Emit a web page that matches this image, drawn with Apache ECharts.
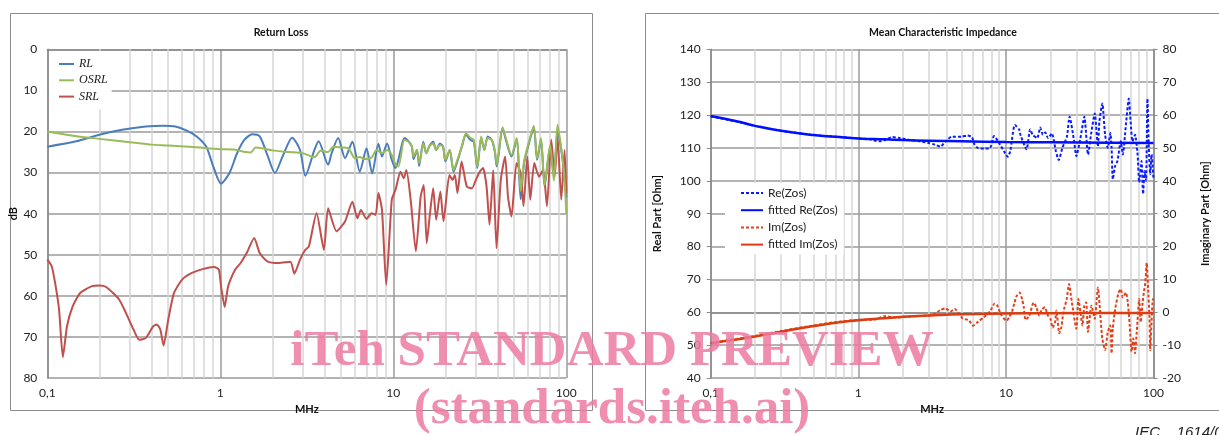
<!DOCTYPE html>
<html><head><meta charset="utf-8">
<script src="https://cdn.jsdelivr.net/npm/echarts@6/dist/echarts.min.js"></script>
<style>html,body{margin:0;padding:0;background:#fff}#c{width:1219px;height:435px}</style>
</head><body><div id="c"></div>
<script>
// ---------- Return Loss (left) ----------
const rlFreq = [0.1,0.147,0.2,0.27,0.37,0.47,0.55,0.64,0.73,0.83,0.91,1.01,1.13,1.25,1.38,1.53,1.69,1.87,2.07,2.29,2.6,2.89,3.1,3.5,3.7,4.2,4.4,4.8,5.26,5.8,6.4,7.0,7.55,8.2,8.6,9.2,9.8,10.3,10.7,11.6,12.3,12.8,13.1,13.7,14.1,14.9,15.5,16.2,17,17.7,18.6,19.4,20,21.2,22.3,23.3,24.9,26.3,28,29.2,30.6,32.2,33.6,35.1,37.1,38.6,39.6,42.8,44.7,48.2,51.6,54.5,57,60.8,64.9,67.8,71.4,74.9,80.6,84.8,89,93.5,97,100];
const rlDb   = [23.7,22.4,20.8,19.6,18.8,18.6,18.8,19.8,21.2,23.7,28.5,32.7,30.1,25.3,22,20.7,21.2,25.7,30.1,26.1,21.5,24.5,30.8,24.5,22.4,28.1,25.3,21.6,26.5,22.5,29.8,24.1,30.2,23,26.1,22.9,26.9,28.9,26.9,21.6,22.5,23.7,26.7,24.5,28.4,22.5,25.3,23.5,22.5,24.5,22.9,23.7,27.3,24.5,29.8,27.7,23.7,20.8,22.1,22.5,28.9,21.6,24.5,21.2,22.1,24.9,28.5,19.2,22,26.1,22,36.5,27.7,22.9,19,26.9,22,33.4,23.7,31,19.5,24.5,30,36];
const osrlFreq = [0.1,0.15,0.2,0.3,0.4,0.5,0.7,1,1.2,1.4,1.5,1.6,1.8,2,2.5,3,3.5,3.8,4.2,4.5,5,5.5,6,6.4,6.8,7.5,8,8.6,9.2,9.8,10.3,10.7,11.6,12.3,12.8,13.1,13.7,14.1,14.9,15.5,16.2,17,17.7,18.6,19.4,20,21.2,22.3,23.3,24.9,26.3,28,29.2,30.6,32.2,33.6,35.1,37.1,38.6,39.6,42.8,44.7,48.2,51.6,54.5,57,60.8,64.9,67.8,71.4,74.9,80.6,84.8,89,93.5,97,100];
const osrlDb   = [20,21.2,21.8,22.6,23.2,23.4,23.8,24.3,24.4,25,25.1,23.9,24.2,24.6,25,25.3,26.3,24.7,25,23.7,23.9,24.1,26.5,26.2,26.7,26.3,24.5,25.3,24.5,25.7,28.1,28.5,22.1,22.5,23.7,26.1,24.5,27.7,22.9,25.3,23.5,22.9,24.5,23.3,23.7,26.9,24.5,29.4,27.3,23.7,20.5,21.6,22.1,28.5,21.2,24.5,21.6,22.1,24.5,28.1,19,21.6,25.7,21.6,34.5,27.3,22.5,18.6,26.5,21.6,33,23.3,32,18.3,24.1,30,39.9];
const srlFreq = [0.1,0.106,0.111,0.117,0.123,0.13,0.14,0.155,0.18,0.2,0.22,0.26,0.285,0.315,0.34,0.37,0.41,0.43,0.45,0.47,0.5,0.54,0.6,0.68,0.79,0.92,0.98,1.01,1.06,1.11,1.22,1.31,1.42,1.57,1.69,1.87,2.17,2.54,2.68,2.89,3.1,3.25,3.6,3.97,4.2,4.7,5.26,5.8,6.2,6.5,7.0,7.5,7.9,8.2,8.6,9.1,9.8,10.3,11,11.5,11.9,12.6,13.5,14.4,15,15.6,16.3,17,17.7,18.7,19.5,21.1,22,22.7,23.5,24.8,26.6,28.5,30,31.6,33,34.6,36,37.8,39.5,41.8,44.3,46,48.2,51.6,54.5,56.6,59.5,61.9,65.3,69.5,73.4,77.3,81.9,85.7,89,93.5,97.8,100];
const srlDb   = [51.2,52.8,56.9,63.4,74.9,67.4,62.6,59.3,57.7,57.5,57.9,60.9,64.2,68.2,70.7,70.3,67.4,67,68.2,72.1,65.8,59.3,56.1,54.5,53.5,53,53.6,57.7,62.7,57.7,53.6,52,49.6,45.9,49.6,51.6,52,51.7,54.6,51.2,48.8,48,39.9,48.8,38.7,44.3,41.9,37.1,41.1,39.1,41.3,39.9,40.3,35,39.1,57.3,36.6,34.2,29.8,31.4,29.4,36.6,49.2,35.8,33,47.2,39.9,33.8,41.5,34.6,41.9,30.6,31.8,30.6,35,27.3,33.4,33.8,31.8,29.8,28.9,33.4,42.7,29.4,48.4,31.8,26.1,35.8,40.7,27.7,30.1,38.2,26.1,36.6,27.7,31,29.3,38.2,22,31,21.2,36.6,24.5,35];

// ---------- Mean Characteristic Impedance (right) ----------
const reFreq = [0.1,0.15,0.2,0.3,0.5,0.7,1,1.2,1.4,1.5,1.7,1.9,2.2,2.6,3,3.3,3.6,3.9,4.3,5,5.5,5.9,6.1,6.5,7.2,7.8,8.3,8.8,9.7,10.3,10.7,11.5,12.3,12.6,13.8,14.6,15.2,16.3,17.1,17.8,18.5,19.3,20.5,21.8,22.8,24.2,25.9,27,29,30,32,34,36,38,40,42,43,45,47,49,51,52,53,55,57,60,62,65,68,70,72,75,78,80,83,85,87,89,91,93,95,97,100];
const reZos  = [119.6,118,116.7,115.2,113.9,113.4,112.9,112.6,112,112.3,113.3,113,112.5,112,111.5,111,110.4,112,113.4,113.4,113.8,113.2,111.2,109.9,109.8,109.9,113.6,112.2,109,107.3,109,117,115.6,113.7,109.6,115.6,114,113,116.2,114,114.7,113,114.4,109,106.3,110.2,113.4,119.5,112,107.5,113,119.5,108,115,120.5,110.5,118,123.5,114,110,114.5,110,100.5,104.5,106,112,108,117,125,118,112,114,108,99.5,106,96,103,100,125,110,102,108,100.5];
const fitFreq = [0.1,0.15,0.2,0.3,0.5,0.7,1,1.5,2,3,5,10,20,50,100];
const fitRe   = [119.7,118.1,116.7,115.2,113.9,113.4,112.9,112.6,112.4,112.2,112,111.8,111.7,111.6,111.5];
const fitIm   = [-9.4,-8.3,-7.4,-5.9,-4.2,-3.2,-2.4,-1.8,-1.4,-1,-0.6,-0.4,-0.3,-0.2,-0.2];
const imFreq = [0.1,0.2,0.3,0.5,0.7,1,1.3,1.5,1.8,2.2,2.7,3.2,3.6,3.9,4.2,4.5,5.1,5.6,6,6.5,7.1,7.8,8.4,8.7,9.3,10.1,10.5,11,11.4,11.8,12.4,12.9,13.2,13.6,14.4,15.4,16.1,16.8,17.5,18.4,19.1,20.1,20.7,21.5,22,23,23.8,24.5,25.8,26.8,27.5,28,30,31,32,33,34,35,36,38,40,42,44,45,47,49,51,52,53,55,58,60,62,65,67,69,71,73,75,77,80,82,84,86,88,90,92,94,95,97,99,100];
const imZos  = [-9.4,-7.2,-5.7,-4,-3,-2.3,-2.2,-1.2,-1.6,-1.3,-1.1,-0.8,0.7,1.2,0.2,1,-1.9,-2.4,-4.1,-2.8,-1.5,0.2,2.7,2.2,-0.8,-2.6,-1.6,0.2,2.7,4.9,6,3.8,1.7,-2.3,-1.1,2.9,1.5,-1,0.8,1.5,-0.7,-2.2,-4.7,-3.2,0.5,-6.4,-4.4,0,4,8.6,5.5,3,-5,4,0,-4,2,3,-6,2,-2,7.5,-3,-8,-11.5,-6,-4,-12.5,-5,1,6,7,4.5,6,3,-4,-12,-8,-12.5,-6,4,-3,2,6,9,15,7,-2,-11.5,-3,4,3];

// ---------- axis ticks ----------
const majorTicks = [0.1, 1, 10, 100];
const minorFreqs = [0.2,0.3,0.4,0.5,0.6,0.7,0.8,0.9,2,3,4,5,6,7,8,9,20,30,40,50,60,70,80,90];

const zip = (a, b) => a.map((v, i) => [v, b[i]]);
const fmtF = v => (Math.abs(v - 0.1) < 1e-6 ? '0,1' : String(Math.round(v)));

const FONT = 'Lato, "Noto Sans", sans-serif';
const lbl = { color: '#222', fontSize: 12, fontFamily: FONT };
const gridMajor = { show: true, lineStyle: { color: '#9a9a9a', width: 1.5 } };

function xAx(gi) {
  return {
    type: 'log', logBase: 10, min: 0.1, max: 100, gridIndex: gi,
    name: 'MHz', nameLocation: 'middle', nameGap: 22,
    nameTextStyle: { fontWeight: 'bold', fontSize: 11, fontFamily: FONT, color: '#111' },
    axisLine: { show: true, lineStyle: { color: '#8a8a8a', width: 1.5 } },
    axisTick: { show: false },
    axisLabel: Object.assign({ margin: 9, formatter: fmtF }, lbl),
    splitLine: gridMajor, minorTick: { show: false }, minorSplitLine: { show: false }
  };
}
function minorSeries(xi, yi) {
  return {
    type: 'line', xAxisIndex: xi, yAxisIndex: yi, data: [], z: 1, silent: true,
    markLine: {
      z: 1, silent: true, symbol: ['none', 'none'], animation: false,
      label: { show: false },
      lineStyle: { color: '#d6d6d6', width: 1.5, type: 'solid' },
      emphasis: { disabled: true },
      data: minorFreqs.map(f => ({ xAxis: f }))
    }
  };
}

const chart = echarts.init(document.getElementById('c'), null, { renderer: 'canvas' });
chart.setOption({
  animation: false,
  backgroundColor: '#fff',
  title: [
    { text: 'Return Loss', left: 276, top: 22, textAlign: 'center',
      textStyle: { fontSize: 10.5, fontWeight: 'bold', fontFamily: FONT, color: '#111' } },
    { text: 'Mean Characteristic Impedance', left: 938, top: 22, textAlign: 'center',
      textStyle: { fontSize: 10.5, fontWeight: 'bold', fontFamily: FONT, color: '#111' } }
  ],
  grid: [
    { left: 47.3, top: 49.3, width: 519, height: 328.7 },
    { left: 710.7, top: 49.3, width: 442.8, height: 328.7 }
  ],
  legend: [
    { data: ['RL', 'OSRL', 'SRL'], orient: 'vertical', left: 49, top: 51,
      padding: [7, 4, 7, 9], itemGap: 4.3, itemWidth: 15, itemHeight: 14,
      backgroundColor: '#fff', z: 6, itemStyle: { opacity: 0 },
      textStyle: { fontFamily: '"Liberation Serif", serif', fontStyle: 'italic', fontSize: 12, color: '#222' } },
    { data: ['Re(Zos)', 'fitted Re(Zos)', 'Im(Zos)', 'fitted Im(Zos)'], orient: 'vertical', left: 725, top: 183,
      padding: [4, 6, 4, 15], itemGap: 5.2, itemWidth: 22, itemHeight: 10,
      backgroundColor: '#fff', z: 6, itemStyle: { opacity: 0 },
      textStyle: { fontFamily: FONT, fontSize: 12, color: '#222' } }
  ],
  xAxis: [xAx(0), xAx(1)],
  yAxis: [
    { type: 'value', gridIndex: 0, inverse: true, min: 0, max: 80, interval: 10,
      name: 'dB', nameLocation: 'middle', nameGap: 28, nameRotate: 90,
      nameTextStyle: { fontWeight: 'bold', fontSize: 11, fontFamily: FONT, color: '#111' },
      axisLine: { show: true, lineStyle: { color: '#8a8a8a', width: 1.5 } },
      axisTick: { show: false }, axisLabel: Object.assign({ margin: 10 }, lbl), splitLine: gridMajor },
    { type: 'value', gridIndex: 1, min: 40, max: 140, interval: 10, position: 'left',
      name: 'Real Part [Ohm]', nameLocation: 'middle', nameGap: 48, nameRotate: 90,
      nameTextStyle: { fontWeight: 'bold', fontSize: 11, fontFamily: FONT, color: '#111' },
      axisLine: { show: true, lineStyle: { color: '#8a8a8a', width: 1.5 } },
      axisTick: { show: true, inside: false, length: 4, lineStyle: { color: '#8a8a8a' } },
      axisLabel: Object.assign({ margin: 10 }, lbl), splitLine: gridMajor },
    { type: 'value', gridIndex: 1, min: -20, max: 80, interval: 10, position: 'right',
      name: 'Imaginary Part [Ohm]', nameLocation: 'middle', nameGap: 46, nameRotate: 90,
      nameTextStyle: { fontWeight: 'bold', fontSize: 11, fontFamily: FONT, color: '#111' },
      axisLine: { show: true, lineStyle: { color: '#8a8a8a', width: 1.5 } },
      axisTick: { show: true, inside: false, length: 4, lineStyle: { color: '#8a8a8a' } },
      axisLabel: Object.assign({ margin: 9 }, lbl), splitLine: { show: false } }
  ],
  series: [
    minorSeries(0, 0),
    minorSeries(1, 1),
    { name: 'RL', type: 'line', xAxisIndex: 0, yAxisIndex: 0, data: zip(rlFreq, rlDb), symbol: 'none', smooth: 0.25, z: 3,
      lineStyle: { color: '#4a7ebb', width: 2 }, itemStyle: { color: '#4a7ebb' } },
    { name: 'OSRL', type: 'line', xAxisIndex: 0, yAxisIndex: 0, data: zip(osrlFreq, osrlDb), symbol: 'none', smooth: 0.25, z: 4,
      lineStyle: { color: '#9bbb59', width: 2 }, itemStyle: { color: '#9bbb59' } },
    { name: 'SRL', type: 'line', xAxisIndex: 0, yAxisIndex: 0, data: zip(srlFreq, srlDb), symbol: 'none', smooth: 0.2, z: 3,
      lineStyle: { color: '#c0504d', width: 2 }, itemStyle: { color: '#c0504d' } },
    { name: 'Re(Zos)', type: 'line', xAxisIndex: 1, yAxisIndex: 1, data: zip(reFreq, reZos), symbol: 'none', smooth: 0.2, z: 3,
      lineStyle: { color: '#0a1cff', width: 2, type: [3, 2] }, itemStyle: { color: '#0a1cff' } },
    { name: 'fitted Re(Zos)', type: 'line', xAxisIndex: 1, yAxisIndex: 1, data: zip(fitFreq, fitRe), symbol: 'none', smooth: true, z: 4,
      lineStyle: { color: '#0010ff', width: 2.5 }, itemStyle: { color: '#0010ff' } },
    { name: 'Im(Zos)', type: 'line', xAxisIndex: 1, yAxisIndex: 2, data: zip(imFreq, imZos), symbol: 'none', smooth: 0.2, z: 3,
      lineStyle: { color: '#e0401a', width: 2, type: [3, 2] }, itemStyle: { color: '#e0401a' } },
    { name: 'fitted Im(Zos)', type: 'line', xAxisIndex: 1, yAxisIndex: 2, data: zip(fitFreq, fitIm), symbol: 'none', smooth: true, z: 4,
      lineStyle: { color: '#dc3c10', width: 2.5 }, itemStyle: { color: '#dc3c10' } }
  ],
  graphic: [
    { type: 'rect', shape: { x: 10.5, y: 13.5, width: 582, height: 397 }, style: { fill: 'none', stroke: '#8c8c8c', lineWidth: 1 }, z: 0, silent: true },
    { type: 'rect', shape: { x: 645.5, y: 13.5, width: 620, height: 397 }, style: { fill: 'none', stroke: '#8c8c8c', lineWidth: 1 }, z: 0, silent: true },
    { type: 'text', x: 612, y: 352, z: 100, silent: true,
      style: { text: 'iTeh STANDARD PREVIEW', font: 'bold 51px "Liberation Serif", "DejaVu Serif", serif', fill: 'rgba(236,122,160,0.85)', textAlign: 'center', textVerticalAlign: 'middle' } },
    { type: 'text', x: 612, y: 410, z: 100, silent: true,
      style: { text: '(standards.iteh.ai)', font: 'bold 51px "Liberation Serif", "DejaVu Serif", serif', fill: 'rgba(236,122,160,0.85)', textAlign: 'center', textVerticalAlign: 'middle' } },
    { type: 'text', x: 1135, y: 425, z: 100, silent: true,
      style: { text: 'IEC    1614/09', font: 'italic 15px "Liberation Sans", Arial, sans-serif', fill: '#222', textAlign: 'left', textVerticalAlign: 'top' } }
  ]
});
</script>
</body></html>
